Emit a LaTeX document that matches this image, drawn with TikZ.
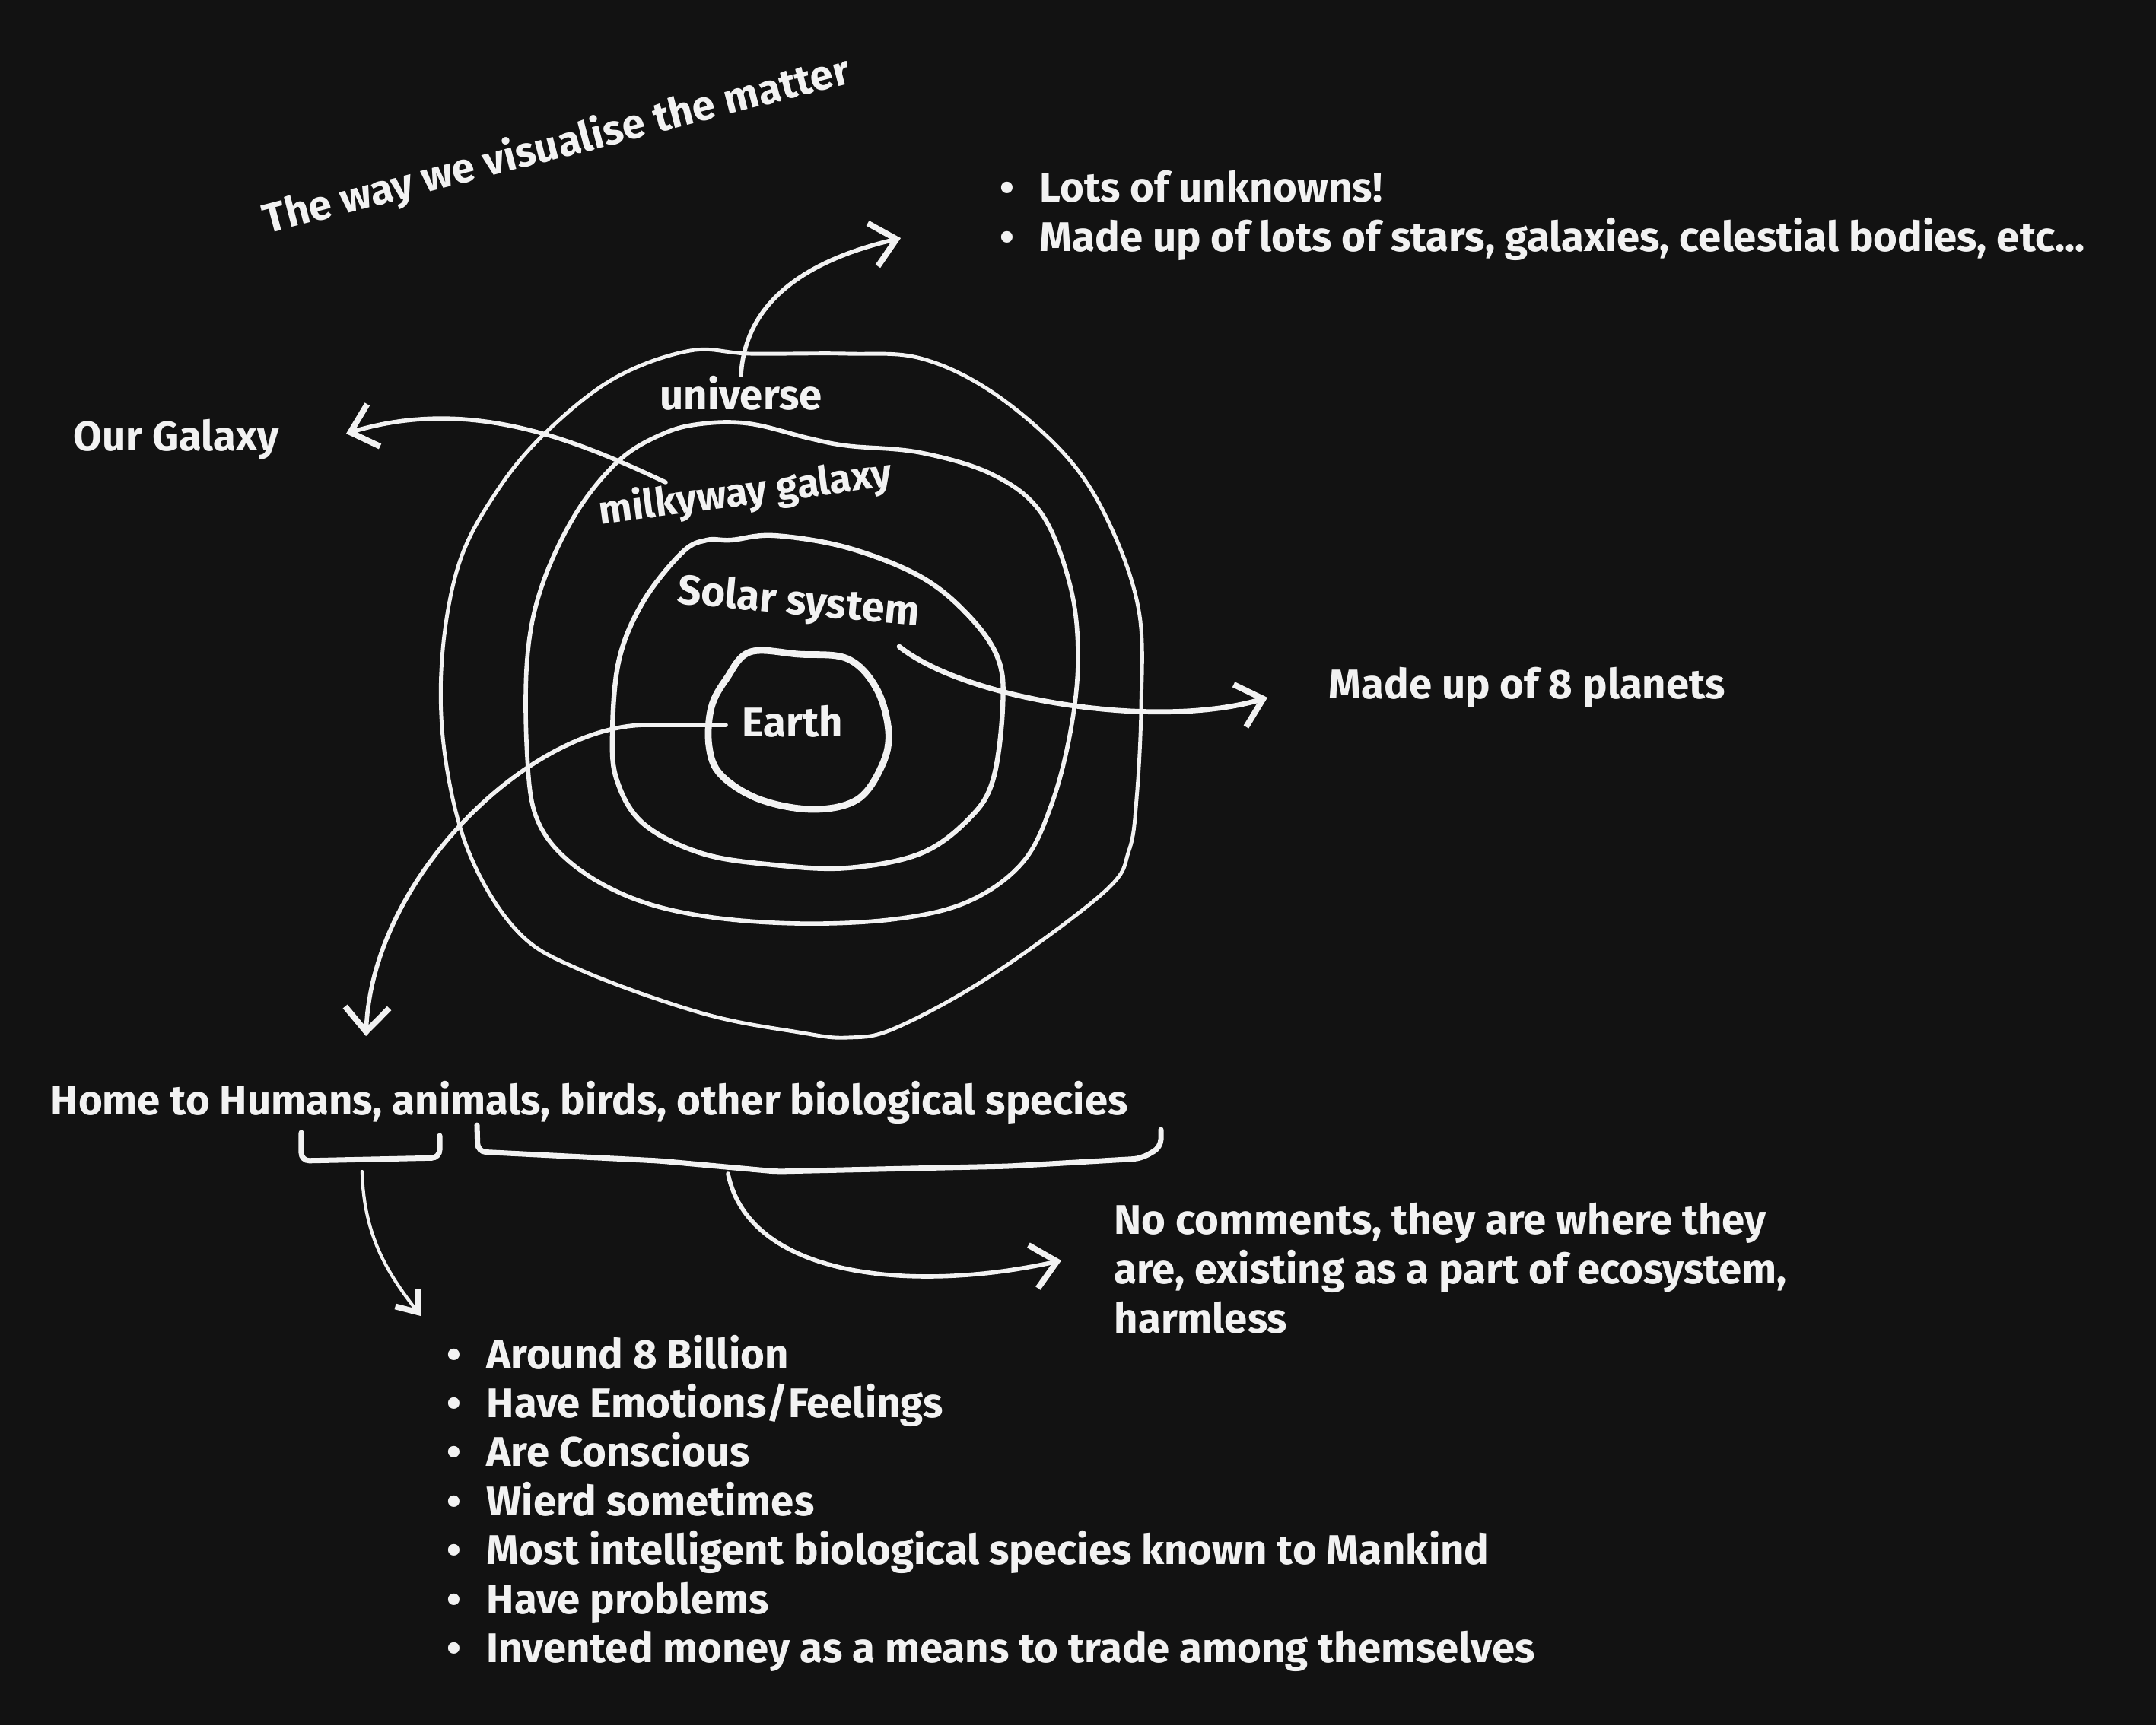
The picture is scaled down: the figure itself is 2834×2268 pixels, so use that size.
\documentclass[tikz,border=0pt]{standalone}
\usepackage{fontspec}
\setmainfont{Fira Sans}
\usepackage{xcolor}
\usepackage{tikz}
\usetikzlibrary{positioning, arrows.meta}

\definecolor{board}{HTML}{121212}
\definecolor{chalk}{HTML}{F2F2F2}
\newcommand{\itm}[1]{\makebox[0.52cm][l]{\textbullet}#1}

\begin{document}
\begin{tikzpicture}[x = 0.01cm, y = -0.01cm, node distance = 0.3em]
            \tikzstyle{txt} = [inner sep = 0pt, text = chalk, font = \fontsize{15.5}{18.5}\selectfont\bfseries];
            \tikzstyle{ring} = [draw = chalk, line cap = round, line join = round];
            \tikzstyle{arw} = [draw = chalk, line width = 1.6pt, line cap = round, -{Straight Barb[length = 3.2mm, width = 5.8mm, line width = 2.2pt]}];
            \tikzstyle{brace} = [draw = chalk, line width = 2pt, line cap = round, rounded corners = 3pt];

            \fill [board] (0, 0) rectangle (2834, 2268);
            \useasboundingbox (0, 0) rectangle (2834, 2268);

            % the four rings
            \draw [ring, line width = 1.4pt] plot [smooth cycle, tension = 0.6] coordinates {(907, 461) (986, 465) (1114, 465) (1210, 471) (1305, 516) (1401, 599) (1458, 688) (1497, 803) (1500, 930) (1494, 1050) (1484, 1118) (1452, 1172) (1305, 1281) (1178, 1351) (1114, 1364) (1050, 1357) (923, 1332) (763, 1275) (680, 1224) (617, 1122) (585, 994) (581, 866) (604, 739) (655, 643) (719, 567) (808, 497)};
            \draw [ring, line width = 1.6pt] plot [smooth cycle, tension = 0.6] coordinates {(923, 557) (986, 557) (1063, 576) (1114, 586) (1210, 595) (1305, 624) (1369, 675) (1407, 771) (1417, 866) (1407, 962) (1382, 1058) (1344, 1134) (1273, 1185) (1178, 1208) (1050, 1214) (923, 1204) (827, 1179) (750, 1134) (706, 1077) (693, 994) (693, 866) (712, 771) (757, 675) (814, 605) (872, 570)};
            \draw [ring, line width = 1.8pt] plot [smooth cycle, tension = 0.6] coordinates {(961, 710) (1018, 704) (1114, 720) (1210, 758) (1273, 809) (1312, 866) (1318, 930) (1305, 1026) (1273, 1077) (1210, 1122) (1114, 1141) (1018, 1137) (923, 1122) (846, 1083) (811, 1026) (805, 962) (814, 866) (846, 790) (897, 726) (929, 710)};
            \draw [ring, line width = 2.5pt] plot [smooth cycle, tension = 0.6] coordinates {(986, 857) (1050, 860) (1114, 866) (1152, 905) (1168, 962) (1159, 1007) (1127, 1051) (1069, 1064) (999, 1051) (948, 1019) (932, 981) (935, 930) (955, 892)};

            \node [txt, anchor = base, rotate = 14.5] (title) at (736, 208) {The way we visualise the matter};
            \node [txt, anchor = base] (universe) at (974, 538) {universe};
            \node [txt, anchor = base, rotate = 7.5, font = \fontsize{14.8}{18.5}\selectfont\bfseries] (milkyway) at (982, 664) {milkyway galaxy};
            \node [txt, anchor = base, rotate = -5.4] (solar) at (1048, 808) {Solar system};
            \node [txt, anchor = base] (earth) at (1042, 968) {Earth};

            \node [txt, anchor = base west] (galaxy) at (96, 592) {Our Galaxy};
            \node [txt, anchor = base west] (planets) at (1746, 918) {Made up of 8 planets};
            \node [txt, anchor = base west] (U1) at (1314, 265) {\itm{Lots of unknowns!}};
            \node [txt, anchor = base west] (U2) at (1314, 330) {\itm{Made up of lots of stars, galaxies, celestial bodies, etc...}};

            \node [txt, anchor = base west] (home) at (66, 1465) {Home to Humans, animals, birds, other biological species};
            \node [txt, anchor = base west] (N1) at (1464, 1622) {No comments, they are where they};
            \node [txt, anchor = base west] (N2) at (1464, 1687) {are, existing as a part of ecosystem,};
            \node [txt, anchor = base west] (N3) at (1464, 1752) {harmless};
            \foreach \t [count = \i] in {Around 8 Billion, Have Emotions/Feelings, Are Conscious, Wierd sometimes, Most intelligent biological species known to Mankind, Have problems, Invented money as a means to trade among themselves}
                \node [txt, anchor = base west] (T\i) at (587, {1799 + 64.4 * (\i - 1)}) {\itm{\t}};

            % brackets under the home line
            \draw [brace] (396, 1489) -- (396, 1526) -- (578, 1522) -- (578, 1493);
            \draw [brace] (627, 1479) -- (628, 1514) -- (867, 1526) -- (1020, 1540) -- (1327, 1533) -- (1500, 1523) -- (1526, 1508) -- (1526, 1485);

            \coordinate (uTail) at (974, 493);
            \coordinate (uTip) at (1184, 313);
            \coordinate (mTail) at (875, 634);
            \coordinate (mTip) at (455, 570);
            \coordinate (sTail) at (1182, 850);
            \coordinate (sTip) at (1666, 917);
            \coordinate (eTail) at (954, 953);
            \coordinate (eTip) at (481, 1362);
            \coordinate (hTail) at (476, 1540);
            \coordinate (hTip) at (553, 1730);
            \coordinate (aTail) at (957, 1543);
            \coordinate (aTip) at (1395, 1657);

            \draw [arw] (uTail) .. controls (980, 390) and (1070, 340) .. (uTip);
            \draw [arw] (mTail) .. controls (760, 580) and (620, 520) .. (mTip);
            \draw [arw, line width = 1.9pt] (sTail) .. controls (1270, 920) and (1520, 960) .. (sTip);
            \draw [arw] (eTail) -- (850, 953) .. controls (700, 953) and (490, 1150) .. (eTip);
            \draw [arw, line width = 1.2pt, -{Straight Barb[length = 2.4mm, width = 3.8mm, line width = 2.2pt]}] (hTail) .. controls (478, 1630) and (515, 1680) .. (hTip);
            \draw [arw] (aTail) .. controls (985, 1680) and (1200, 1700) .. (aTip);
\end{tikzpicture}
\end{document}
